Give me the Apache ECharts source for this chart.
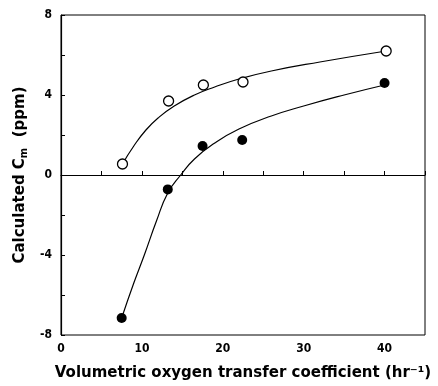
<!DOCTYPE html>
<html>
<head>
<meta charset="utf-8">
<script src="https://cdn.jsdelivr.net/npm/echarts@6/dist/echarts.min.js"></script>
<style>
  html, body { margin: 0; padding: 0; background: #fff; }
  #chart { width: 438px; height: 386px; }
</style>
</head>
<body>
<div id="chart"></div>
<script>
// measured points (open / filled circles)
var openPts = [[7.6, 0.55], [13.3, 3.7], [17.6, 4.5], [22.5, 4.65], [40.2, 6.2]];
var filledPts = [[7.5, -7.15], [13.2, -0.72], [17.5, 1.45], [22.4, 1.75], [40.0, 4.6]];
// fitted curves
var openCurve = [[7.6, 0.55], [9, 1.45], [10.5, 2.25], [12, 2.85], [14, 3.45], [16.5, 4.0], [19, 4.4], [22, 4.8], [26, 5.2], [32, 5.65], [40.2, 6.2]];
var filledCurve = [[7.5, -7.15], [9, -5.4], [10.3, -4.0], [11.8, -2.3], [13.2, -0.9], [14.8, 0], [16.5, 0.8], [19, 1.6], [22, 2.3], [26, 2.95], [30, 3.45], [35, 4.0], [40, 4.5]];
var xLabels = [0, 10, 20, 30, 40];
var yLabels = [-8, -4, 0, 4, 8];

var myChart = echarts.init(document.getElementById('chart'));
var labelFont = {
    color: '#000',
    fontFamily: 'DejaVu Sans Condensed, DejaVu Sans',
    fontWeight: 'bold',
    fontSize: 12
};
var titleFont = 'DejaVu Sans, Liberation Sans, Arial';
var option = {
    animation: false,
    grid: {
        left: 61,
        right: 13,
        top: 15,
        bottom: 45,
        show: true,
        borderColor: '#000',
        borderWidth: 1
    },
    xAxis: {
        type: 'value',
        min: 0,
        max: 45,
        interval: 5,
        name: 'Volumetric oxygen transfer coefficient (hr⁻¹)',
        nameLocation: 'middle',
        nameGap: 31,
        nameTextStyle: {
            color: '#000',
            fontFamily: titleFont,
            fontSize: 15,
            fontWeight: 'bold'
        },
        axisLine: { show: true, lineStyle: { color: '#000', width: 1.2 } },
        axisTick: { show: true, inside: true, length: 4, lineStyle: { color: '#000' } },
        splitLine: { show: false },
        axisLabel: Object.assign({
            margin: 8,
            formatter: function (v) { return xLabels.indexOf(v) >= 0 ? String(v) : ''; }
        }, labelFont)
    },
    yAxis: {
        type: 'value',
        min: -8,
        max: 8,
        interval: 2,
        name: '{s|Calculated C}{sub|m}{s|  (ppm)}',
        nameLocation: 'middle',
        nameGap: 30,
        nameTextStyle: {
            color: '#000',
            fontFamily: titleFont,
            fontSize: 15,
            fontWeight: 'bold',
            rich: {
                s: { fontSize: 15, fontWeight: 'bold', fontFamily: titleFont, color: '#000' },
                sub: { fontSize: 10, fontWeight: 'bold', fontFamily: titleFont, color: '#000', verticalAlign: 'bottom', padding: [7, 0, 0, 0] }
            }
        },
        axisLine: { show: true, lineStyle: { color: '#000', width: 1.2 } },
        axisTick: { show: true, inside: true, length: 4, lineStyle: { color: '#000' } },
        splitLine: { show: false },
        axisLabel: Object.assign({
            margin: 9,
            formatter: function (v) { return yLabels.indexOf(v) >= 0 ? String(v) : ''; }
        }, labelFont)
    },
    series: [
        {
            type: 'line',
            data: openCurve,
            smooth: 0.5,
            showSymbol: false,
            lineStyle: { color: '#000', width: 1.2 },
            markLine: {
                silent: true,
                symbol: ['none', 'none'],
                label: { show: false },
                lineStyle: { color: '#000', type: [8, 5], width: 1.2 },
                data: [{ yAxis: 0 }]
            }
        },
        {
            type: 'line',
            data: filledCurve,
            smooth: 0.5,
            showSymbol: false,
            lineStyle: { color: '#000', width: 1.2 }
        },
        {
            type: 'scatter',
            data: openPts,
            symbol: 'circle',
            symbolSize: 10,
            itemStyle: { color: '#fff', borderColor: '#000', borderWidth: 1.3, opacity: 1 },
            z: 5
        },
        {
            type: 'scatter',
            data: filledPts,
            symbol: 'circle',
            symbolSize: 10,
            itemStyle: { color: '#000', opacity: 1 },
            z: 5
        }
    ]
};
myChart.setOption(option);
</script>
</body>
</html>
